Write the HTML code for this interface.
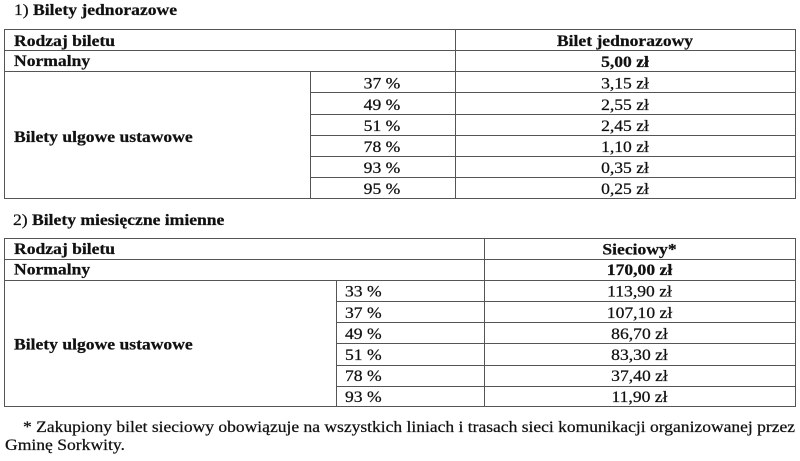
<!DOCTYPE html>
<html>
<head>
<meta charset="utf-8">
<style>
  html, body { margin: 0; padding: 0; background: #fff; }
  body { width: 800px; height: 461px; overflow: hidden; }
  svg { display: block; }
  text { font-family: "Liberation Serif", "DejaVu Serif", serif; font-size: 16px; fill: #111; stroke: #111; stroke-width: 0.25px; }
  .b { font-weight: bold; }
</style>
</head>
<body>
<svg width="800" height="461" viewBox="0 0 800 461" xmlns="http://www.w3.org/2000/svg">
  <g fill="#555" shape-rendering="crispEdges">
    <!-- Table 1 horizontal lines -->
    <rect x="4" y="29" width="792" height="1"/>
    <rect x="4" y="50" width="792" height="1"/>
    <rect x="4" y="71" width="792" height="1"/>
    <rect x="310" y="92" width="486" height="1"/>
    <rect x="310" y="114" width="486" height="1"/>
    <rect x="310" y="135" width="486" height="1"/>
    <rect x="310" y="156" width="486" height="1"/>
    <rect x="310" y="177" width="486" height="1"/>
    <rect x="4" y="198" width="792" height="1"/>
    <!-- Table 1 vertical lines -->
    <rect x="4" y="29" width="1" height="170"/>
    <rect x="795" y="29" width="1" height="170"/>
    <rect x="455" y="29" width="1" height="170"/>
    <rect x="310" y="71" width="1" height="128"/>

    <!-- Table 2 horizontal lines -->
    <rect x="4" y="238" width="792" height="1"/>
    <rect x="4" y="259" width="792" height="1"/>
    <rect x="4" y="280" width="792" height="1"/>
    <rect x="336" y="301" width="460" height="1"/>
    <rect x="336" y="322" width="460" height="1"/>
    <rect x="336" y="343" width="460" height="1"/>
    <rect x="336" y="365" width="460" height="1"/>
    <rect x="336" y="386" width="460" height="1"/>
    <rect x="4" y="406" width="792" height="1"/>
    <!-- Table 2 vertical lines -->
    <rect x="4" y="238" width="1" height="169"/>
    <rect x="795" y="238" width="1" height="169"/>
    <rect x="484" y="238" width="1" height="169"/>
    <rect x="336" y="280" width="1" height="127"/>
  </g>

  <!-- Title 1 -->
  <text transform="translate(14,15) scale(1.1,1)">1) <tspan class="b">Bilety jednorazowe</tspan></text>

  <!-- Table 1 -->
  <text class="b" transform="translate(14,46) scale(1.1,1)">Rodzaj biletu</text>
  <text class="b" text-anchor="middle" transform="translate(625,46) scale(1.1,1)">Bilet jednorazowy</text>
  <text class="b" transform="translate(14,66) scale(1.1,1)">Normalny</text>
  <text class="b" text-anchor="middle" transform="translate(625,67) scale(1.1,1)">5,00 zł</text>
  <text class="b" transform="translate(14,142) scale(1.1,1)">Bilety ulgowe ustawowe</text>

  <text text-anchor="middle" transform="translate(382,88.5) scale(1.1,1)">37 %</text>
  <text text-anchor="middle" transform="translate(382,110) scale(1.1,1)">49 %</text>
  <text text-anchor="middle" transform="translate(382,131) scale(1.1,1)">51 %</text>
  <text text-anchor="middle" transform="translate(382,152) scale(1.1,1)">78 %</text>
  <text text-anchor="middle" transform="translate(382,173) scale(1.1,1)">93 %</text>
  <text text-anchor="middle" transform="translate(382,194) scale(1.1,1)">95 %</text>

  <text text-anchor="middle" transform="translate(625,88.5) scale(1.1,1)">3,15 zł</text>
  <text text-anchor="middle" transform="translate(625,110) scale(1.1,1)">2,55 zł</text>
  <text text-anchor="middle" transform="translate(625,131) scale(1.1,1)">2,45 zł</text>
  <text text-anchor="middle" transform="translate(625,152) scale(1.1,1)">1,10 zł</text>
  <text text-anchor="middle" transform="translate(625,173) scale(1.1,1)">0,35 zł</text>
  <text text-anchor="middle" transform="translate(625,194) scale(1.1,1)">0,25 zł</text>

  <!-- Title 2 -->
  <text transform="translate(13,225) scale(1.1,1)">2) <tspan class="b">Bilety miesięczne imienne</tspan></text>

  <!-- Table 2 -->
  <text class="b" transform="translate(14,254) scale(1.1,1)">Rodzaj biletu</text>
  <text class="b" text-anchor="middle" transform="translate(639.5,254.5) scale(1.1,1)">Sieciowy*</text>
  <text class="b" transform="translate(14,274.5) scale(1.1,1)">Normalny</text>
  <text class="b" text-anchor="middle" transform="translate(639.5,275) scale(1.1,1)">170,00 zł</text>
  <text class="b" transform="translate(14,349.5) scale(1.1,1)">Bilety ulgowe ustawowe</text>

  <text transform="translate(345,296.7) scale(1.1,1)">33 %</text>
  <text transform="translate(345,318) scale(1.1,1)">37 %</text>
  <text transform="translate(345,339) scale(1.1,1)">49 %</text>
  <text transform="translate(345,360) scale(1.1,1)">51 %</text>
  <text transform="translate(345,381) scale(1.1,1)">78 %</text>
  <text transform="translate(345,402) scale(1.1,1)">93 %</text>

  <text text-anchor="middle" transform="translate(639.5,296.7) scale(1.1,1)">113,90 zł</text>
  <text text-anchor="middle" transform="translate(639.5,318) scale(1.1,1)">107,10 zł</text>
  <text text-anchor="middle" transform="translate(639.5,339) scale(1.1,1)">86,70 zł</text>
  <text text-anchor="middle" transform="translate(639.5,360) scale(1.1,1)">83,30 zł</text>
  <text text-anchor="middle" transform="translate(639.5,381) scale(1.1,1)">37,40 zł</text>
  <text text-anchor="middle" transform="translate(639.5,402) scale(1.1,1)">11,90 zł</text>

  <!-- Footnote -->
  <text x="23" y="432" textLength="772" lengthAdjust="spacingAndGlyphs">* Zakupiony bilet sieciowy obowiązuje na wszystkich liniach i trasach sieci komunikacji organizowanej przez</text>
  <text transform="translate(5,450) scale(1.1,1)">Gminę Sorkwity.</text>
</svg>
</body>
</html>
